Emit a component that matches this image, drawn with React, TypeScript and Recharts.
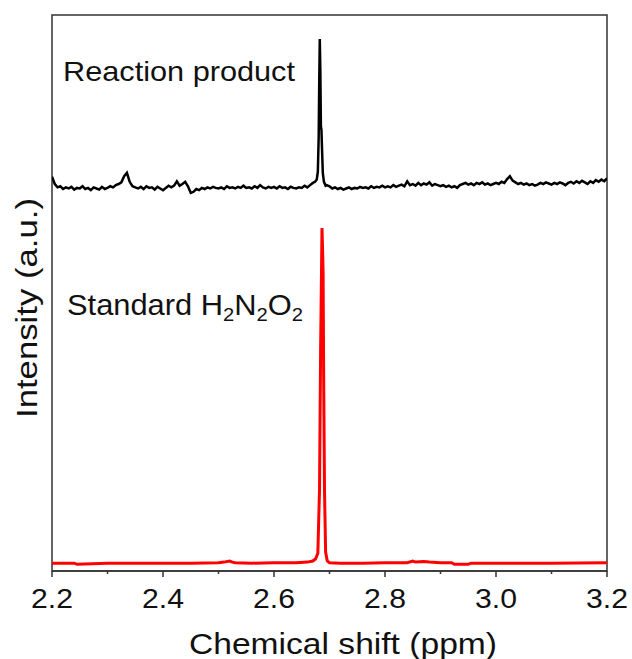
import React from 'react';
import { LineChart, Line, XAxis, YAxis, ReferenceArea, Customized } from 'recharts';

const FONT = "'Liberation Sans', Arial, sans-serif";
const AXIS = '#333333';

// x ticks (ppm): majors get labels, minors are short marks
const xTicks = [2.2, 2.3, 2.4, 2.5, 2.6, 2.7, 2.8, 2.9, 3.0, 3.1, 3.2];

// Reaction product: baseline read every 0.005 ppm from 2.200 to 3.200
const blackStart = 2.2;
const blackStep = 0.005;
const blackBase = [
  70.9, 69.6, 69.0, 69.2, 68.7, 69.0, 68.8, 69.1, 68.6, 68.9,
  68.8, 69.2, 68.7, 68.9, 68.5, 69.0, 68.8, 68.6, 69.1, 68.7,
  68.9, 69.2, 69.0, 69.4, 69.6, 69.9, 71.0, 71.6, 70.0, 69.2,
  69.0, 68.8, 69.1, 68.7, 69.2, 68.9, 69.0, 68.6, 69.1, 68.8,
  68.5, 68.9, 69.3, 69.0, 69.3, 70.1, 69.3, 69.6, 70.0, 69.2,
  68.0, 68.2, 68.7, 68.5, 68.9, 68.7, 69.0, 68.8, 69.1, 68.9,
  68.8, 69.0, 68.7, 69.2, 68.9, 69.0, 68.8, 69.1, 68.9, 69.3,
  68.9, 69.0, 68.8, 69.2, 68.9, 69.4, 69.0, 68.8, 69.1, 68.9,
  69.1, 68.8, 69.2, 68.9, 69.0, 68.7, 69.1, 68.9, 68.8, 69.0,
  68.9, 69.3, 69.0, 69.4, 69.8, 70.3, 75.0, 80.0, 72.0, 69.4,
  69.2, 68.8, 69.0, 68.7, 68.9, 68.6, 68.8, 69.0, 68.7, 68.9,
  68.8, 69.1, 68.9, 69.0, 68.8, 69.2, 68.9, 69.1, 69.0, 69.3,
  69.0, 69.2, 69.0, 69.4, 69.1, 69.3, 69.5, 69.2, 70.1, 69.4,
  69.6, 69.3, 69.8, 69.4, 69.7, 69.5, 69.9, 69.3, 69.6, 69.4,
  69.2, 69.4, 69.1, 69.3, 69.0, 69.2, 68.9, 69.4, 69.6, 69.8,
  69.5, 69.7, 69.4, 69.8, 69.6, 69.9, 69.5, 69.7, 69.4, 69.6,
  69.8, 69.6, 70.0, 69.8, 70.5, 71.0, 70.2, 69.9, 69.6, 69.8,
  69.5, 69.7, 69.4, 69.6, 69.3, 69.5, 69.8, 69.6, 69.9, 69.7,
  69.5, 69.8, 69.6, 69.9, 69.7, 69.4, 69.8, 70.0, 69.7, 70.1,
  69.8, 70.2, 69.9, 69.6, 70.1, 69.8, 70.3, 70.0, 70.4, 70.1,
  70.6,
];
// main peak of the reaction product, read point by point
const blackPeakShift = [2.674, 2.677, 2.679, 2.6805, 2.6815, 2.6825, 2.6835, 2.6845, 2.6855, 2.6865, 2.688, 2.690, 2.693];
const blackPeakValue = [70.0, 70.4, 71.8, 78.0, 88.0, 95.7, 90.0, 80.0, 79.3, 76.0, 71.5, 70.0, 69.3];

// Standard H2N2O2
const redShift = [
  2.2, 2.24, 2.245, 2.3, 2.4, 2.45, 2.5, 2.51, 2.52, 2.525, 2.53, 2.56, 2.6, 2.64, 2.66, 2.67, 2.675,
  2.679, 2.682, 2.684, 2.6865, 2.6875, 2.6885, 2.6895, 2.691, 2.693, 2.696, 2.7, 2.72, 2.76, 2.8,
  2.84, 2.85, 2.855, 2.87, 2.88, 2.9, 2.92, 2.925, 2.95, 2.955, 3.0, 3.1, 3.2,
];
const redValue = [
  1.4, 1.4, 1.2, 1.4, 1.4, 1.4, 1.5, 1.6, 1.8, 1.6, 1.5, 1.4, 1.5, 1.5, 1.6, 1.8, 2.2,
  3.2, 14.5, 40.0, 61.7, 58.0, 53.6, 35.0, 14.5, 3.4, 1.8, 1.5, 1.4, 1.4, 1.5,
  1.5, 1.8, 1.6, 1.7, 1.6, 1.5, 1.5, 1.2, 1.2, 1.4, 1.4, 1.4, 1.5,
];

const blackData = [
  ...blackBase
    .map((y, i) => ({ x: +(blackStart + i * blackStep).toFixed(3), y }))
    .filter((p) => p.x < 2.674 || p.x > 2.693),
  ...blackPeakShift.map((x, i) => ({ x, y: blackPeakValue[i] })),
].sort((a, b) => a.x - b.x);

const redData = redShift.map((x, i) => ({ x, y: redValue[i] }));

const XTick = (props: any) => {
  const { x, y, payload } = props;
  const v: number = payload.value;
  const major = Math.round(v * 10) % 2 === 0;
  return (
    <g>
      <line x1={x} x2={x} y1={y} y2={y + (major ? 6 : 3)} stroke={AXIS} strokeWidth={1.5} />
      {major && (
        <text x={x} y={y + 37} textAnchor="middle" fontSize={28.5} fontFamily={FONT} fill="#111" textLength={42} lengthAdjust="spacingAndGlyphs">
          {v.toFixed(1)}
        </text>
      )}
    </g>
  );
};

const Labels = () => (
  <g fontFamily={FONT} fill="#111">
    <text x={63} y={81} fontSize={28.5} textLength={232} lengthAdjust="spacingAndGlyphs">
      Reaction product
    </text>
    <text x={67} y={315} fontSize={29} textLength={236} lengthAdjust="spacingAndGlyphs">
      Standard H<tspan fontSize={19} dy={6}>2</tspan>
      <tspan dy={-6}>N</tspan>
      <tspan fontSize={19} dy={6}>2</tspan>
      <tspan dy={-6}>O</tspan>
      <tspan fontSize={19} dy={6}>2</tspan>
    </text>
    <text x={189} y={654} fontSize={29.5} textLength={308} lengthAdjust="spacingAndGlyphs">
      Chemical shift (ppm)
    </text>
    <text transform="translate(37, 418) rotate(-90)" x={0} y={0} fontSize={29.5} textLength={220} lengthAdjust="spacingAndGlyphs">
      Intensity (a.u.)
    </text>
  </g>
);

export default function App() {
  return (
    <div style={{ position: 'fixed', left: 0, top: 0, width: 632, height: 659, background: '#fff' }}>
      <LineChart width={632} height={659} margin={{ top: 15, right: 25, left: 52, bottom: 0 }}>
        <XAxis
          dataKey="x"
          type="number"
          domain={[2.2, 3.2]}
          ticks={xTicks}
          interval={0}
          allowDataOverflow
          height={88}
          tickSize={0}
          tickMargin={0}
          tickLine={false}
          axisLine={{ stroke: AXIS, strokeWidth: 1.5 }}
          tick={<XTick />}
        />
        <YAxis type="number" domain={[0, 100]} hide allowDataOverflow />
        <ReferenceArea x1={2.2} x2={3.2} y1={0} y2={100} fill="none" stroke={AXIS} strokeWidth={1.5} />
        <Line data={blackData} dataKey="y" type="linear" stroke="#000" strokeWidth={2.5} dot={false} isAnimationActive={false} />
        <Line data={redData} dataKey="y" type="linear" stroke="#ff0000" strokeWidth={3} dot={false} isAnimationActive={false} />
        <Customized component={<Labels />} />
      </LineChart>
    </div>
  );
}
